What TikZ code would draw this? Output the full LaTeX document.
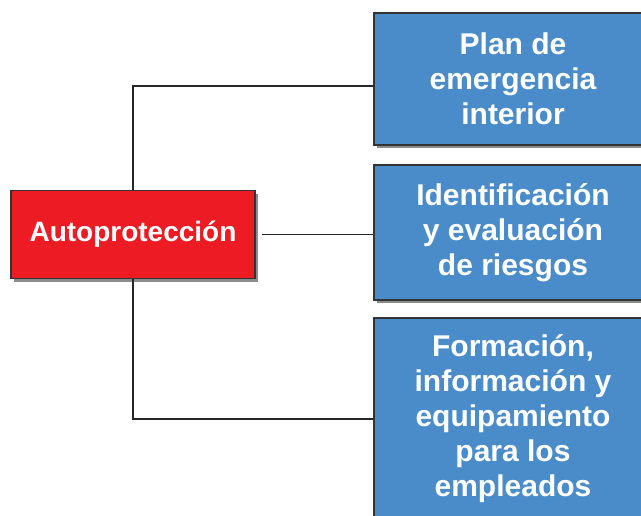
\documentclass[tikz,border=0pt]{standalone}
\usepackage{fontspec}
\setmainfont{Liberation Sans}
\usepackage{tikz}
\usetikzlibrary{positioning,shadows}

\definecolor{autored}{RGB}{237,28,36}
\definecolor{itemblue}{RGB}{74,140,202}

\begin{document}
\begin{tikzpicture}[
    x=0.5pt,y=-0.5pt,
    every node/.style={font=\fontsize{15}{17.5}\selectfont\bfseries,text=white},
    box/.style={rectangle,draw=black!80,line width=0.6pt,align=center,inner sep=2pt,
        drop shadow={shadow xshift=1.5pt,shadow yshift=-1.5pt,fill=black!45,opacity=1}},
    root/.style={box,fill=autored,minimum width=122pt,minimum height=44pt,
        font=\fontsize{14}{16}\selectfont\bfseries},
    item/.style={box,fill=itemblue,minimum width=139pt},
    link/.style={line width=0.6pt,black!85}
]

% page frame
\useasboundingbox (0,0) rectangle (641,515);
\clip (0,0) rectangle (641,515);

% Node grid (absolute positions)
\node[root] (auto) at (133,234.5) {Autoprotección};
\node[item,minimum height=66pt]  (plan)    at (513,79)    {Plan de\\emergencia\\interior};
\node[item,minimum height=67.5pt] (riesgos) at (513,232.5) {Identificación\\y evaluación\\de riesgos};
\node[item,minimum height=101pt] (forma)   at (513,419)   {Formación,\\información y\\equipamiento\\para los\\empleados};

% Connections
\draw[link] (auto.north) |- ([yshift=-3.5pt]plan.west);
\draw[link] ([xshift=3pt]auto.east) -- (riesgos.west |- auto.east);
\draw[link] (auto.south) |- (forma.west);

\end{tikzpicture}
\end{document}
